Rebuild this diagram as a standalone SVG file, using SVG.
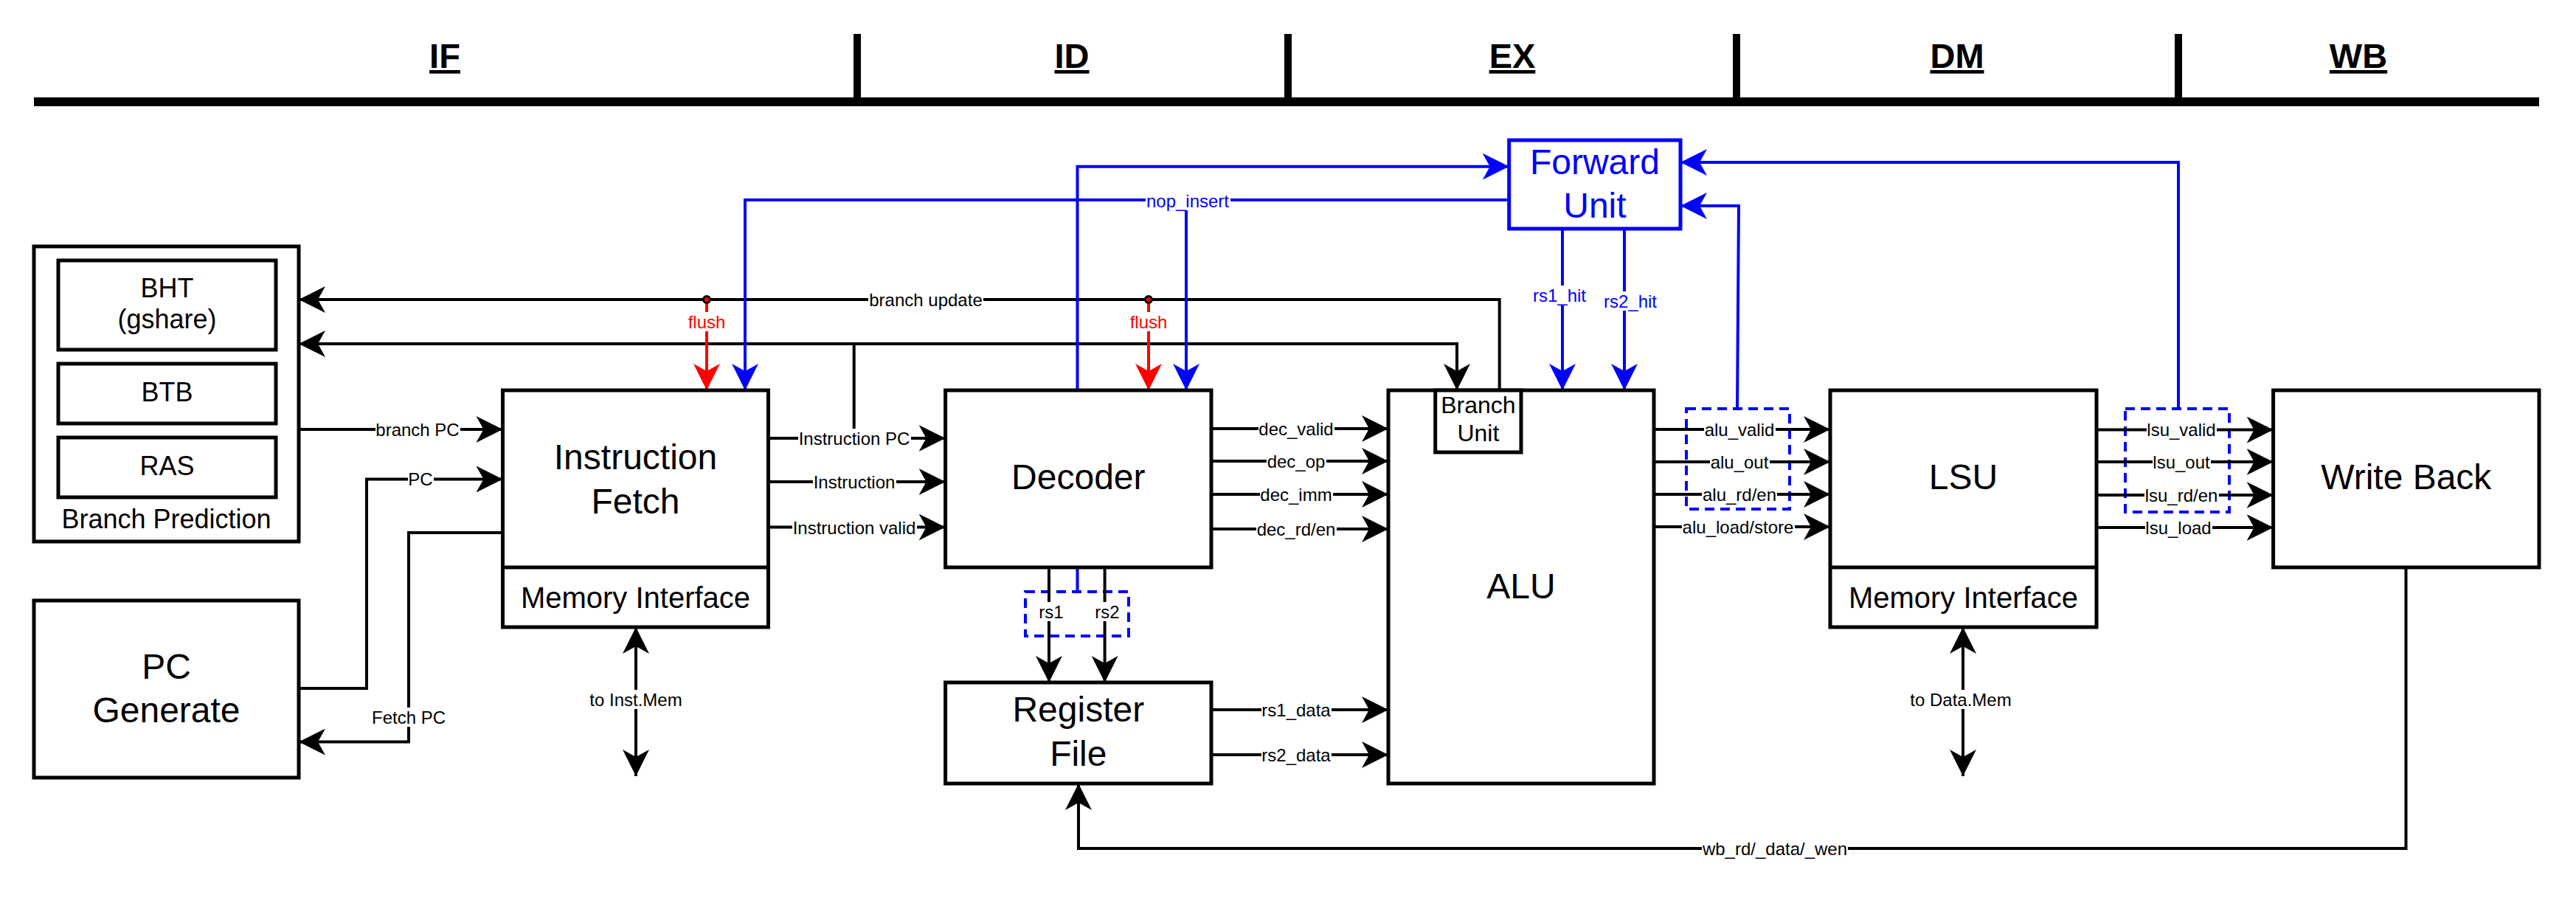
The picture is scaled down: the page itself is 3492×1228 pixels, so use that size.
<svg xmlns="http://www.w3.org/2000/svg" width="3492" height="1228" viewBox="0 0 3492 1228">
<style>
.box{fill:#fff;stroke:#000;stroke-width:5}
.fbox{fill:#fff;stroke:#00f;stroke-width:5}
.dash{fill:none;stroke:#00f;stroke-width:4;stroke-dasharray:13 8}
.t{font-family:"Liberation Sans",Arial,sans-serif;text-anchor:middle;fill:#000}
.big{font-size:48px}
.mid{font-size:40px}
.sm{font-size:36px}
.bu{font-size:32px}
.hd{font-size:47px;font-weight:bold;text-decoration:underline}
.lb{font-family:"Liberation Sans",Arial,sans-serif;font-size:24px;text-anchor:middle;dominant-baseline:central;fill:#000}
.bl{fill:#00f}
.rd{fill:#f00}
.k{fill:none;stroke:#000;stroke-width:4}
.b{fill:none;stroke:#00f;stroke-width:4}
.r{fill:none;stroke:#f00;stroke-width:4}
.bg{fill:#fff}
</style>
<defs>
<marker id="ak" markerUnits="userSpaceOnUse" viewBox="0 0 36 36" refX="36" refY="18" markerWidth="36" markerHeight="36" orient="auto-start-reverse"><path d="M0,0 L36,18 L0,36 L10,18 z" fill="#000"/></marker>
<marker id="ab" markerUnits="userSpaceOnUse" viewBox="0 0 36 36" refX="36" refY="18" markerWidth="36" markerHeight="36" orient="auto-start-reverse"><path d="M0,0 L36,18 L0,36 L10,18 z" fill="#00f"/></marker>
<marker id="ar" markerUnits="userSpaceOnUse" viewBox="0 0 36 36" refX="36" refY="18" markerWidth="36" markerHeight="36" orient="auto-start-reverse"><path d="M0,0 L36,18 L0,36 L10,18 z" fill="#f00"/></marker>
</defs>
<rect width="3492" height="1228" fill="#fff"/>

<g id="stages">
<rect x="46" y="132" width="3396" height="12" fill="#000"/>
<rect x="1157" y="46" width="10" height="92" fill="#000"/>
<rect x="1741" y="46" width="10" height="92" fill="#000"/>
<rect x="2349" y="46" width="10" height="92" fill="#000"/>
<rect x="2948" y="46" width="10" height="92" fill="#000"/>
<text class="t hd" x="603" y="92">IF</text>
<text class="t hd" x="1453" y="92">ID</text>
<text class="t hd" x="2050" y="92">EX</text>
<text class="t hd" x="2653" y="92">DM</text>
<text class="t hd" x="3197" y="92">WB</text>
</g>

<g id="dashed-groups">
<rect id="rs-group" class="dash" x="1390" y="802" width="140" height="60"/>
<rect id="alu-group" class="dash" x="2286" y="554" width="140" height="136"/>
<rect id="lsu-group" class="dash" x="2881" y="554" width="141" height="140"/>
</g>

<g id="connectors">
<path class="k" d="M2032.7,529 V406 H405" marker-end="url(#ak)"/>
<path class="k" d="M1157.7,594 V466 H405" marker-end="url(#ak)"/>
<path class="k" d="M1157.7,466 H1975 V529" marker-end="url(#ak)"/>
<path class="k" d="M405,582 H681.5" marker-end="url(#ak)"/>
<path class="k" d="M405,933 H497 V649.5 H681.5" marker-end="url(#ak)"/>
<path class="k" d="M681.5,722 H554 V1005.6 H405" marker-end="url(#ak)"/>
<path class="k" d="M862,850 V1052" marker-start="url(#ak)" marker-end="url(#ak)"/>
<path class="k" d="M1042,594 H1281.6" marker-end="url(#ak)"/>
<path class="k" d="M1042,653 H1281.6" marker-end="url(#ak)"/>
<path class="k" d="M1042,714.5 H1281.6" marker-end="url(#ak)"/>
<path class="k" d="M1642,581 H1882" marker-end="url(#ak)"/>
<path class="k" d="M1642,625 H1882" marker-end="url(#ak)"/>
<path class="k" d="M1642,670 H1882" marker-end="url(#ak)"/>
<path class="k" d="M1642,717 H1882" marker-end="url(#ak)"/>
<path class="k" d="M1422,769 V925" marker-end="url(#ak)"/>
<path class="k" d="M1497.6,769 V925" marker-end="url(#ak)"/>
<path class="k" d="M1642,962 H1882" marker-end="url(#ak)"/>
<path class="k" d="M1642,1023 H1882" marker-end="url(#ak)"/>
<path class="k" d="M2242,582 H2481" marker-end="url(#ak)"/>
<path class="k" d="M2242,626 H2481" marker-end="url(#ak)"/>
<path class="k" d="M2242,670 H2481" marker-end="url(#ak)"/>
<path class="k" d="M2242,714 H2481" marker-end="url(#ak)"/>
<path class="k" d="M2842,582.6 H3081.6" marker-end="url(#ak)"/>
<path class="k" d="M2842,626 H3081.6" marker-end="url(#ak)"/>
<path class="k" d="M2842,671 H3081.6" marker-end="url(#ak)"/>
<path class="k" d="M2842,715 H3081.6" marker-end="url(#ak)"/>
<path class="k" d="M2661,850 V1052" marker-start="url(#ak)" marker-end="url(#ak)"/>
<path class="k" d="M3261.5,769 V1150 H1462 V1062" marker-end="url(#ak)"/>
<path class="r" d="M958,406 V529" marker-end="url(#ar)"/>
<path class="r" d="M1557,406 V529" marker-end="url(#ar)"/>
<circle cx="958" cy="406" r="4.5" fill="#f00" stroke="#000" stroke-width="3"/>
<circle cx="1557" cy="406" r="4.5" fill="#f00" stroke="#000" stroke-width="3"/>
<path class="b" d="M1460.5,802 V225.7 H2045.7" marker-end="url(#ab)"/>
<path class="b" d="M2045.7,271 H1010 V529" marker-end="url(#ab)"/>
<path class="b" d="M1608,271 V529" marker-end="url(#ab)"/>
<path class="b" d="M2118,310 V529" marker-end="url(#ab)"/>
<path class="b" d="M2202,310 V529" marker-end="url(#ab)"/>
<path class="b" d="M2355,554 L2357,279 H2278" marker-end="url(#ab)"/>
<path class="b" d="M2953,554 V220 H2278" marker-end="url(#ab)"/>

<g id="labels">
<rect class="bg" x="1177" y="393" width="156" height="26"/><text class="lb" x="1255" y="406">branch update</text>
<rect class="bg" x="931" y="423" width="54" height="26"/><text class="lb rd" x="958" y="436">flush</text>
<rect class="bg" x="1530" y="423" width="54" height="26"/><text class="lb rd" x="1557" y="436">flush</text>
<rect class="bg" x="1553" y="259" width="115" height="26"/><text class="lb bl" x="1610" y="272">nop_insert</text>
<rect class="bg" x="2077" y="387" width="75" height="26"/><text class="lb bl" x="2114" y="400">rs1_hit</text>
<rect class="bg" x="2173" y="395" width="75" height="26"/><text class="lb bl" x="2210" y="408">rs2_hit</text>
<rect class="bg" x="509" y="569" width="115" height="26"/><text class="lb" x="566" y="582">branch PC</text>
<rect class="bg" x="553" y="636" width="35" height="26"/><text class="lb" x="570" y="649">PC</text>
<rect class="bg" x="503" y="959" width="102" height="26"/><text class="lb" x="554" y="972">Fetch PC</text>
<rect class="bg" x="799" y="935" width="127" height="26"/><text class="lb" x="862" y="948">to Inst.Mem</text>
<rect class="bg" x="1082" y="581" width="153" height="26"/><text class="lb" x="1158" y="594">Instruction PC</text>
<rect class="bg" x="1102" y="640" width="113" height="26"/><text class="lb" x="1158" y="653">Instruction</text>
<rect class="bg" x="1074" y="702" width="169" height="26"/><text class="lb" x="1158" y="715">Instruction valid</text>
<rect class="bg" x="1706" y="568" width="103" height="26"/><text class="lb" x="1757" y="581">dec_valid</text>
<rect class="bg" x="1717" y="612" width="81" height="26"/><text class="lb" x="1757" y="625">dec_op</text>
<rect class="bg" x="1708" y="657" width="99" height="26"/><text class="lb" x="1757" y="670">dec_imm</text>
<rect class="bg" x="1703" y="704" width="109" height="26"/><text class="lb" x="1757" y="717">dec_rd/en</text>
<rect class="bg" x="1710" y="949" width="95" height="26"/><text class="lb" x="1757" y="962">rs1_data</text>
<rect class="bg" x="1710" y="1010" width="95" height="26"/><text class="lb" x="1757" y="1023">rs2_data</text>
<rect class="bg" x="1408" y="816" width="35" height="26"/><text class="lb" x="1425" y="829">rs1</text>
<rect class="bg" x="1484" y="816" width="35" height="26"/><text class="lb" x="1501" y="829">rs2</text>
<rect class="bg" x="2310" y="569" width="97" height="26"/><text class="lb" x="2358" y="582">alu_valid</text>
<rect class="bg" x="2318" y="613" width="81" height="26"/><text class="lb" x="2358" y="626">alu_out</text>
<rect class="bg" x="2307" y="657" width="102" height="26"/><text class="lb" x="2358" y="670">alu_rd/en</text>
<rect class="bg" x="2280" y="701" width="153" height="26"/><text class="lb" x="2356" y="714">alu_load/store</text>
<rect class="bg" x="2910" y="569" width="95" height="26"/><text class="lb" x="2957" y="582">lsu_valid</text>
<rect class="bg" x="2918" y="613" width="79" height="26"/><text class="lb" x="2957" y="626">lsu_out</text>
<rect class="bg" x="2907" y="658" width="101" height="26"/><text class="lb" x="2957" y="671">lsu_rd/en</text>
<rect class="bg" x="2908" y="702" width="91" height="26"/><text class="lb" x="2953" y="715">lsu_load</text>
<rect class="bg" x="2589" y="935" width="139" height="26"/><text class="lb" x="2658" y="948">to Data.Mem</text>
<rect class="bg" x="2307" y="1137" width="198" height="26"/><text class="lb" x="2406" y="1150">wb_rd/_data/_wen</text>
</g>
</g>

<g id="branch-prediction">
<rect class="box" x="46" y="334" width="359" height="400"/>
<text class="t sm" x="225.5" y="716">Branch Prediction</text>
</g>
<g id="bht">
<rect class="box" x="79" y="353" width="295" height="121"/>
<text class="t sm" x="226.5" y="403">BHT</text>
<text class="t sm" x="226.5" y="445">(gshare)</text>
</g>
<g id="btb">
<rect class="box" x="79" y="493" width="295" height="81"/>
<text class="t sm" x="226.5" y="544">BTB</text>
</g>
<g id="ras">
<rect class="box" x="79" y="593" width="295" height="81"/>
<text class="t sm" x="226.5" y="644">RAS</text>
</g>
<g id="pc-generate">
<rect class="box" x="46" y="814" width="359" height="240"/>
<text class="t big" x="225.5" y="920">PC</text>
<text class="t big" x="225.5" y="979">Generate</text>
</g>
<g id="instruction-fetch">
<rect class="box" x="681.5" y="529" width="360" height="321"/>
<line x1="681.5" y1="769" x2="1041.5" y2="769" stroke="#000" stroke-width="5"/>
<text class="t big" x="861.5" y="636">Instruction</text>
<text class="t big" x="861.5" y="696">Fetch</text>
<text class="t mid" x="861.5" y="824">Memory Interface</text>
</g>
<g id="decoder">
<rect class="box" x="1281.6" y="529" width="360.4" height="240"/>
<text class="t big" x="1461.8" y="663">Decoder</text>
</g>
<g id="register-file">
<rect class="box" x="1281.6" y="925" width="360.4" height="137"/>
<text class="t big" x="1461.8" y="978">Register</text>
<text class="t big" x="1461.8" y="1038">File</text>
</g>
<g id="alu">
<rect class="box" x="1882" y="529" width="360" height="533"/>
<text class="t big" x="2062" y="811">ALU</text>
</g>
<g id="branch-unit">
<rect class="box" x="1945.7" y="529" width="116.3" height="84"/>
<text class="t bu" x="2003.9" y="560">Branch</text>
<text class="t bu" x="2003.9" y="598">Unit</text>
</g>
<g id="forward-unit">
<rect class="fbox" x="2045.7" y="190" width="232.3" height="120"/>
<text class="t big bl" x="2161.9" y="236">Forward</text>
<text class="t big bl" x="2161.9" y="295">Unit</text>
</g>
<g id="lsu">
<rect class="box" x="2481" y="529" width="361" height="321"/>
<line x1="2481" y1="769" x2="2842" y2="769" stroke="#000" stroke-width="5"/>
<text class="t big" x="2661.5" y="663">LSU</text>
<text class="t mid" x="2661.5" y="824">Memory Interface</text>
</g>
<g id="write-back">
<rect class="box" x="3081.6" y="529" width="360.4" height="240"/>
<text class="t big" x="3261.8" y="663">Write Back</text>
</g>
</svg>
